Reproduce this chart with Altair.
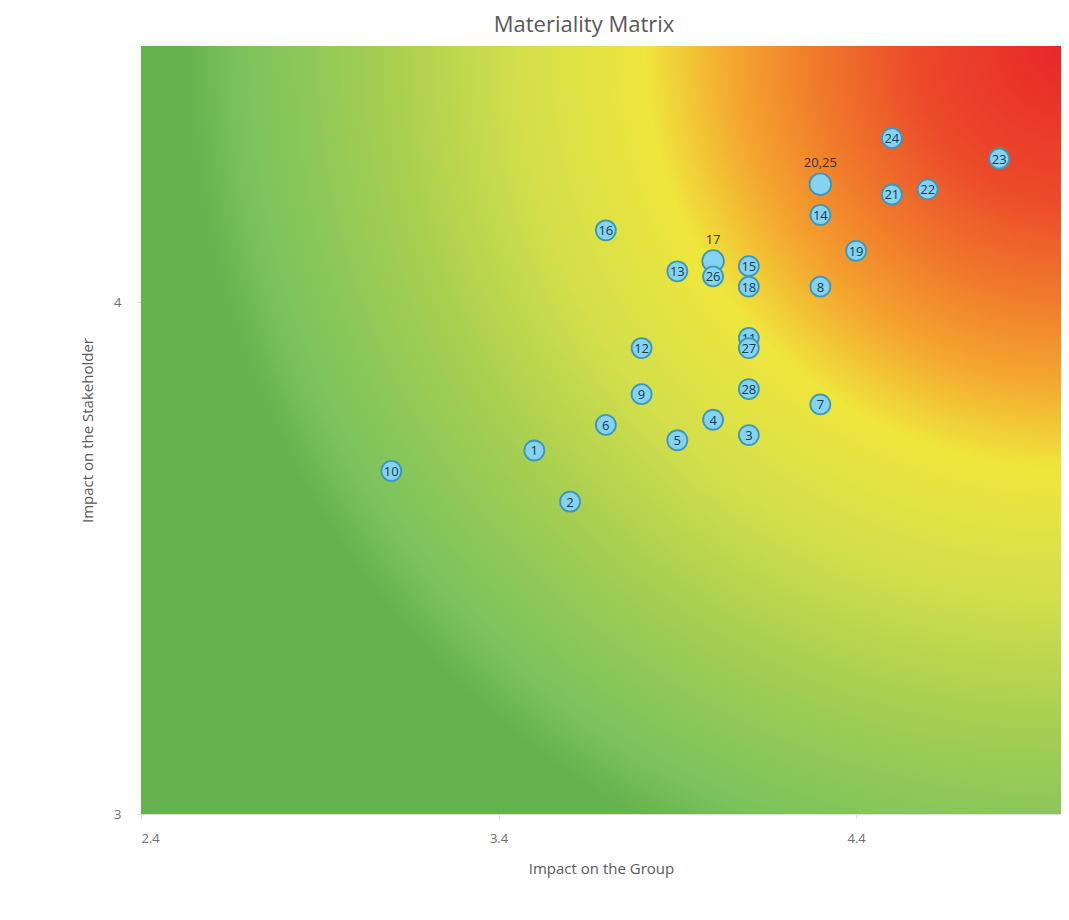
import altair as alt
import pandas as pd

# ---- data ----
inside_ids = ["1", "2", "3", "4", "5", "6", "7", "8", "9", "10", "11", "12", "13", "14",
              "15", "16", "18", "19", "21", "22", "23", "24", "26", "27", "28"]
inside_group = [3.5, 3.6, 4.1, 4.0, 3.9, 3.7, 4.3, 4.3, 3.8, 3.1, 4.1, 3.8, 3.9, 4.3,
                4.1, 3.7, 4.1, 4.4, 4.5, 4.6, 4.8, 4.5, 4.0, 4.1, 4.1]
inside_stake = [3.71, 3.61, 3.74, 3.77, 3.73, 3.76, 3.80, 4.03, 3.82, 3.67, 3.93, 3.91, 4.06, 4.17,
                4.07, 4.14, 4.03, 4.10, 4.21, 4.22, 4.28, 4.32, 4.05, 3.91, 3.83]

above_ids = ["17", "20,25"]
above_group = [4.0, 4.3]
above_stake = [4.08, 4.23]

# bubble drawn last (it overlaps the label of bubble 11 in the reference)
front_ids = ["27"]

x_ticks = [2.4, 3.4, 4.4]
y_ticks = [3, 4]
x_range = [2.4, 4.973]
y_range = [3.0, 4.5]

# gradient stops (distance from top-right corner, colour)
grad_offsets = [0.0, 0.17, 0.28, 0.37, 0.47, 0.61, 0.75, 0.86, 0.92, 0.98, 1.0]
grad_colors = ["#e8262a", "#ec4a2a", "#f07a2b", "#f4a52f", "#efe63c", "#d3df4b",
               "#a8cf50", "#8ac75a", "#7bc25c", "#66b24f", "#66b24f"]

inside_df = pd.DataFrame({"id": inside_ids, "group": inside_group, "stake": inside_stake})
back_df = inside_df[~inside_df["id"].isin(front_ids)]
front_df = inside_df[inside_df["id"].isin(front_ids)]
above_df = pd.DataFrame({"id": above_ids, "group": above_group, "stake": above_stake})
bg_df = pd.DataFrame({"x": [x_range[0]], "x2": [x_range[1]], "y": [y_range[0]], "y2": [y_range[1]]})

W, H = 920, 768
FONT = "Open Sans"

xscale = alt.Scale(domain=x_range, nice=False, zero=False)
yscale = alt.Scale(domain=y_range, nice=False, zero=False)

x_axis = alt.Axis(values=x_ticks, format=".1f", grid=False, domain=False, ticks=True,
                  tickColor="#d9d9d9", tickSize=4, labelColor="#707070", labelFontSize=13,
                  labelFont=FONT, labelPadding=14, title="Impact on the Group",
                  titleFont=FONT, titleFontSize=15, titleFontWeight="normal",
                  titleColor="#595959", titleY=54, titleBaseline="middle")
y_axis = alt.Axis(values=y_ticks, format="d", grid=False, domain=False, ticks=True,
                  tickColor="#d9d9d9", tickSize=4, labelColor="#707070", labelFontSize=13,
                  labelFont=FONT, labelPadding=16, title="Impact on the Stakeholder",
                  titleFont=FONT, titleFontSize=15, titleFontWeight="normal",
                  titleColor="#595959", titleX=-54, titleBaseline="middle")

gradient = {
    "gradient": "radial",
    "x1": 1.0065, "y1": 0.0826, "r1": 0.0,
    "x2": 1.0065, "y2": 0.0826, "r2": 0.978,
    "stops": [{"offset": o, "color": c} for o, c in zip(grad_offsets, grad_colors)],
}

bg = alt.Chart(bg_df).mark_rect(fill=gradient, strokeWidth=0).encode(
    x=alt.X("x:Q", scale=xscale, axis=x_axis),
    x2="x2:Q",
    y=alt.Y("y:Q", scale=yscale, axis=y_axis),
    y2="y2:Q",
)

circ_style = dict(filled=True, fill="#86d3ef", stroke="#3a98bd", strokeWidth=1.8, opacity=1)


def bubbles(df, size):
    return alt.Chart(df).mark_point(size=size, shape="circle", **circ_style).encode(
        x=alt.X("group:Q", scale=xscale), y=alt.Y("stake:Q", scale=yscale))


def inner_labels(df):
    return alt.Chart(df).mark_text(font=FONT, fontSize=13, color="#163a52",
                                   baseline="middle", dy=1).encode(
        x=alt.X("group:Q", scale=xscale), y=alt.Y("stake:Q", scale=yscale), text="id:N")


above_txt = alt.Chart(above_df).mark_text(font=FONT, fontSize=13, color="#333333",
                                          dy=-21, baseline="middle").encode(
    x=alt.X("group:Q", scale=xscale), y=alt.Y("stake:Q", scale=yscale), text="id:N")

chart = alt.layer(
    bg,
    bubbles(above_df, 470),
    bubbles(back_df, 400), inner_labels(back_df),
    bubbles(front_df, 400), inner_labels(front_df),
    above_txt,
).properties(
    width=W, height=H,
    title=alt.TitleParams("Materiality Matrix", font=FONT, fontSize=22, fontWeight="normal",
                          color="#595959", anchor="middle", dx=-17, offset=9),
    autosize=alt.AutoSizeParams(type="none"),
    padding={"left": 133, "top": 38, "right": 0, "bottom": 80},
).configure_view(stroke=None).configure(background="#ffffff")

chart.save("out.html", embed_options={"renderer": "svg", "actions": False})
